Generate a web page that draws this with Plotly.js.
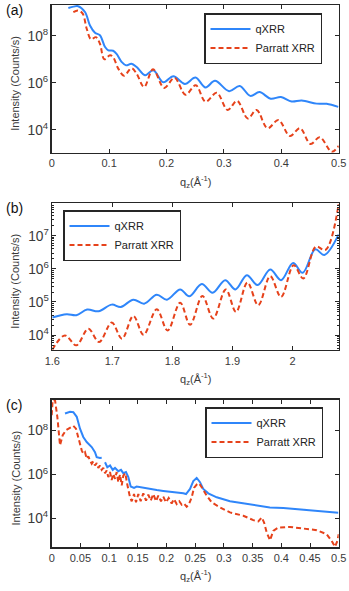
<!DOCTYPE html>
<html>
<head>
<meta charset="utf-8">
<script src="https://cdn.plot.ly/plotly-3.0.1.min.js"></script>
<style>
  html, body { margin: 0; padding: 0; background: #fff; }
  #chart { width: 349px; height: 591px; }
</style>
</head>
<body>
<div id="chart"></div>
<script>
/* qXRR vs Parratt XRR, three q-ranges. Intensities kept as log10 values. */

// (a) 0 - 0.5
var qA_q = [0.029, 0.038, 0.046, 0.058, 0.0667, 0.0754, 0.084, 0.093, 0.0987, 0.107, 0.113, 0.122, 0.1295, 0.139, 0.148, 0.1625, 0.177, 0.1945, 0.212, 0.232, 0.2505, 0.268, 0.2845, 0.309, 0.3275, 0.346, 0.362, 0.3815, 0.3995, 0.418, 0.4355, 0.4617, 0.479, 0.4993];
var qA_y = [9.18, 9.24, 9.26, 9.01, 8.44, 8.13, 8.02, 7.52, 7.38, 7.36, 7.23, 6.88, 6.74, 6.81, 6.67, 6.32, 6.53, 6.02, 6.28, 5.95, 6.22, 5.80, 6.08, 5.64, 5.86, 5.44, 5.60, 5.32, 5.39, 5.20, 5.24, 5.11, 5.10, 4.97];
var pA_q = [0.0377, 0.046, 0.054, 0.061, 0.0685, 0.077, 0.084, 0.0917, 0.1016, 0.107, 0.116, 0.126, 0.139, 0.148, 0.161, 0.1765, 0.196, 0.214, 0.233, 0.251, 0.268, 0.2875, 0.3066, 0.323, 0.3415, 0.357, 0.376, 0.395, 0.415, 0.4325, 0.451, 0.467, 0.488, 0.5];
var pA_y = [9.01, 9.08, 8.94, 8.30, 7.85, 7.94, 7.66, 7.00, 7.17, 7.09, 6.60, 6.30, 6.62, 6.38, 5.82, 6.57, 5.78, 6.21, 5.49, 5.89, 5.19, 5.57, 4.84, 5.23, 4.48, 4.84, 4.06, 4.41, 3.73, 4.06, 3.39, 3.68, 3.06, 3.31];

// (b) 1.6 - 2.077
var qB_q = [1.6, 1.624, 1.64, 1.658, 1.677, 1.699, 1.714, 1.735, 1.753, 1.774, 1.791, 1.813, 1.828, 1.849, 1.867, 1.888, 1.905, 1.924, 1.942, 1.963, 1.981, 2.001, 2.017, 2.038, 2.053, 2.077];
var qB_y = [4.53, 4.63, 4.60, 4.77, 4.72, 4.92, 4.85, 5.07, 4.95, 5.22, 5.07, 5.38, 5.17, 5.54, 5.28, 5.66, 5.38, 5.81, 5.51, 5.98, 5.66, 6.18, 5.88, 6.59, 6.42, 7.04];
var pB_q = [1.6, 1.621, 1.64, 1.66, 1.678, 1.699, 1.716, 1.735, 1.752, 1.774, 1.792, 1.813, 1.8295, 1.85, 1.868, 1.889, 1.906, 1.925, 1.943, 1.963, 1.981, 2.002, 2.018, 2.039, 2.055, 2.077];
var pB_y = [3.56, 3.99, 3.69, 4.19, 3.79, 4.38, 3.89, 4.58, 4.01, 4.78, 4.14, 4.98, 4.31, 5.18, 4.50, 5.38, 4.70, 5.59, 4.90, 5.78, 5.15, 6.11, 5.71, 6.67, 6.57, 7.96];

// (c) 0 - 0.5, null = gap in the qXRR trace
var qC_q = [0.0232, 0.0319, 0.0377, 0.0436, 0.0493, 0.055, 0.061, 0.0697, 0.0754, 0.0784, 0.0841, 0.0871, 0.09, 0.0929, 0.0969, 0.1016, 0.1063, 0.1103, 0.116, 0.1207, 0.1247, 0.1294, 0.1335, 0.1376, 0.1434, 0.148, 0.1596, 0.1713, 0.183, 0.1944, 0.206, 0.2178, 0.2293, 0.234, 0.241, 0.2467, 0.2526, 0.2584, 0.264, 0.2728, 0.2875, 0.3106, 0.3338, 0.357, 0.38, 0.4035, 0.4268, 0.45, 0.473, 0.4993];
var qC_y = [8.78, 8.86, 8.84, 8.63, 8.09, 7.71, 7.48, 7.25, 7.02, 6.79, 6.75, 6.76, null, 6.56, 6.33, 6.41, 6.21, 6.30, 6.15, 6.21, 6.06, 6.11, 5.88, 5.45, 5.39, 5.45, 5.39, 5.34, 5.29, 5.25, 5.22, 5.19, 5.14, 5.11, 5.34, 5.70, 5.84, 5.65, 5.34, 5.14, 4.96, 4.78, 4.68, 4.58, 4.50, 4.47, 4.42, 4.38, 4.32, 4.26];
var pC_q = [0, 0.0017, 0.0058, 0.0098, 0.0145, 0.0192, 0.0249, 0.0319, 0.0377, 0.0423, 0.0464, 0.0493, 0.0523, 0.0551, 0.058, 0.061, 0.0638, 0.0667, 0.0697, 0.0725, 0.0754, 0.0784, 0.0812, 0.0841, 0.0871, 0.0899, 0.0929, 0.0958, 0.0986, 0.1016, 0.1045, 0.1073, 0.1103, 0.1132, 0.116, 0.119, 0.122, 0.1247, 0.1282, 0.1317, 0.1364, 0.1394, 0.1434, 0.1469, 0.1509, 0.155, 0.1596, 0.1643, 0.1683, 0.1725, 0.177, 0.1817, 0.1857, 0.1904, 0.1944, 0.1991, 0.2038, 0.209, 0.213, 0.2178, 0.2223, 0.2265, 0.2305, 0.2352, 0.2387, 0.2439, 0.2479, 0.2526, 0.2566, 0.2613, 0.27, 0.2787, 0.2932, 0.3106, 0.3338, 0.3512, 0.36, 0.3659, 0.37, 0.3746, 0.3803, 0.386, 0.3948, 0.4152, 0.4383, 0.4617, 0.479, 0.4878, 0.4936, 0.4976, 0.5];
var pC_y = [8.70, 9.39, 9.39, 8.63, 7.33, 7.79, 8.02, 8.14, 8.22, 8.09, 7.63, 7.33, 7.10, 6.95, 7.02, 6.72, 6.83, 6.64, 6.49, 6.60, 6.41, 6.52, 6.30, 6.41, 6.21, 6.30, 6.06, 6.18, 5.88, 6.11, 5.75, 6.03, 5.80, 6.11, 5.65, 6.00, 5.50, 5.95, 6.06, 5.54, 4.96, 4.78, 5.11, 4.73, 5.11, 4.78, 5.14, 4.81, 5.08, 4.81, 5.11, 4.78, 5.04, 4.78, 4.99, 4.73, 4.93, 4.68, 4.88, 4.65, 4.78, 4.62, 4.68, 4.53, 4.62, 4.96, 5.39, 5.54, 5.60, 5.42, 5.04, 4.73, 4.50, 4.27, 4.12, 3.92, 3.86, 4.04, 3.81, 3.35, 3.00, 3.43, 3.58, 3.61, 3.55, 3.46, 3.28, 2.97, 2.70, 2.97, 3.28];

var SERIES = ['qXRR', 'Parratt XRR'];

(function () {
  'use strict';

  var W = 349, H = 591;
  var BLUE = '#2f86fa', RED = '#e6421b', AXC = '#262626';
  var FONT = 'Liberation Sans, Arial, sans-serif';

  function pow10(arr) { return arr.map(function (v) { return v === null ? null : Math.pow(10, v); }); }
  function px(x) { return x / W; }
  function py(y) { return 1 - y / H; }

  // plot boxes in pixels: [left, top, right, bottom]
  var BOX = [[51.7, 5, 338.7, 152.7], [52.3, 203.3, 338.7, 350], [51.7, 399.7, 338.7, 547.3]];

  function xax(n, range, dtick) {
    var box = BOX[n - 1];
    return {
      anchor: n === 1 ? 'y' : 'y' + n,
      domain: [px(box[0]), px(box[2])], range: range, dtick: dtick, tick0: 0,
      showline: true, mirror: 'ticks', linecolor: AXC, linewidth: 1.3,
      ticks: 'inside', ticklen: 4, tickcolor: AXC, showgrid: false, zeroline: false,
      tickfont: { size: 11, color: '#3a3a3a' }, fixedrange: true
    };
  }
  function yax(n, range, dtick, minor) {
    var box = BOX[n - 1];
    var a = {
      anchor: n === 1 ? 'x' : 'x' + n,
      type: 'log', domain: [py(box[3]), py(box[1])], range: range, dtick: dtick, tick0: 0,
      exponentformat: 'power', showexponent: 'all',
      showline: true, mirror: 'ticks', linecolor: AXC, linewidth: 1.3,
      ticks: 'inside', ticklen: 4, tickcolor: AXC, showgrid: false, zeroline: false,
      tickfont: { size: 11, color: '#3a3a3a' }, fixedrange: true
    };
    if (minor) a.minor = { ticks: 'inside', ticklen: 2, tickcolor: AXC, showgrid: false };
    return a;
  }

  function pair(n, qx, qy, px_, py_, shape) {
    var ax = n === 1 ? '' : String(n);
    var leg = n === 1 ? 'legend' : 'legend' + n;
    return [
      { x: qx, y: pow10(qy), mode: 'lines', name: SERIES[0], xaxis: 'x' + ax, yaxis: 'y' + ax, legend: leg,
        connectgaps: false, line: { color: BLUE, width: 2, shape: shape, smoothing: 1 }, hoverinfo: 'skip' },
      { x: px_, y: pow10(py_), mode: 'lines', name: SERIES[1], xaxis: 'x' + ax, yaxis: 'y' + ax, legend: leg,
        line: { color: RED, width: 2, dash: '5px,3px', shape: shape, smoothing: 1 }, hoverinfo: 'skip' }
    ];
  }

  var data = [].concat(
    pair(1, qA_q, qA_y, pA_q, pA_y, 'spline'),
    pair(2, qB_q, qB_y, pB_q, pB_y, 'spline'),
    pair(3, qC_q, qC_y, pC_q, pC_y, 'linear')
  );

  function legend(x, y) {
    return { x: px(x), y: py(y), xanchor: 'left', yanchor: 'top', bgcolor: '#fff',
      bordercolor: AXC, borderwidth: 1.5, font: { size: 11, color: '#222' },
      tracegroupgap: 0, itemwidth: 40 };
  }

  var annotations = [];
  ['(a)', '(b)', '(c)'].forEach(function (t, i) {
    var b = BOX[i];
    annotations.push({ text: t, xref: 'paper', yref: 'paper', x: px(4), y: py(b[1] + 5), xanchor: 'left', yanchor: 'middle',
      showarrow: false, font: { size: 14, color: '#111' } });
    annotations.push({ text: 'Intensity (Counts/s)', xref: 'paper', yref: 'paper', x: px(15), y: py((b[1] + b[3]) / 2 + 5),
      textangle: -90, xanchor: 'center', yanchor: 'middle', showarrow: false, font: { size: 11, color: '#3a3a3a' } });
    annotations.push({ text: 'q<sub>z</sub>(Å<sup>-1</sup>)', xref: 'paper', yref: 'paper', x: px(195), y: py(b[3] + 29),
      xanchor: 'center', yanchor: 'middle', showarrow: false, font: { size: 11, color: '#3a3a3a' } });
  });

  var layout = {
    width: W, height: H, margin: { l: 0, r: 0, t: 0, b: 0 },
    paper_bgcolor: '#fff', plot_bgcolor: '#fff',
    font: { family: FONT, size: 11, color: '#3a3a3a' },
    showlegend: true,
    xaxis: xax(1, [0, 0.5], 0.1), yaxis: yax(1, [3.02, 9.31], 2, false),
    xaxis2: xax(2, [1.6, 2.077], 0.1), yaxis2: yax(2, [3.55, 7.98], 1, true),
    xaxis3: xax(3, [0, 0.5], 0.05), yaxis3: yax(3, [2.68, 9.41], 2, false),
    legend: legend(204, 13), legend2: legend(63, 210), legend3: legend(205, 407),
    annotations: annotations
  };

  Plotly.newPlot('chart', data, layout, { displayModeBar: false, staticPlot: true });
})();
</script>
</body>
</html>
